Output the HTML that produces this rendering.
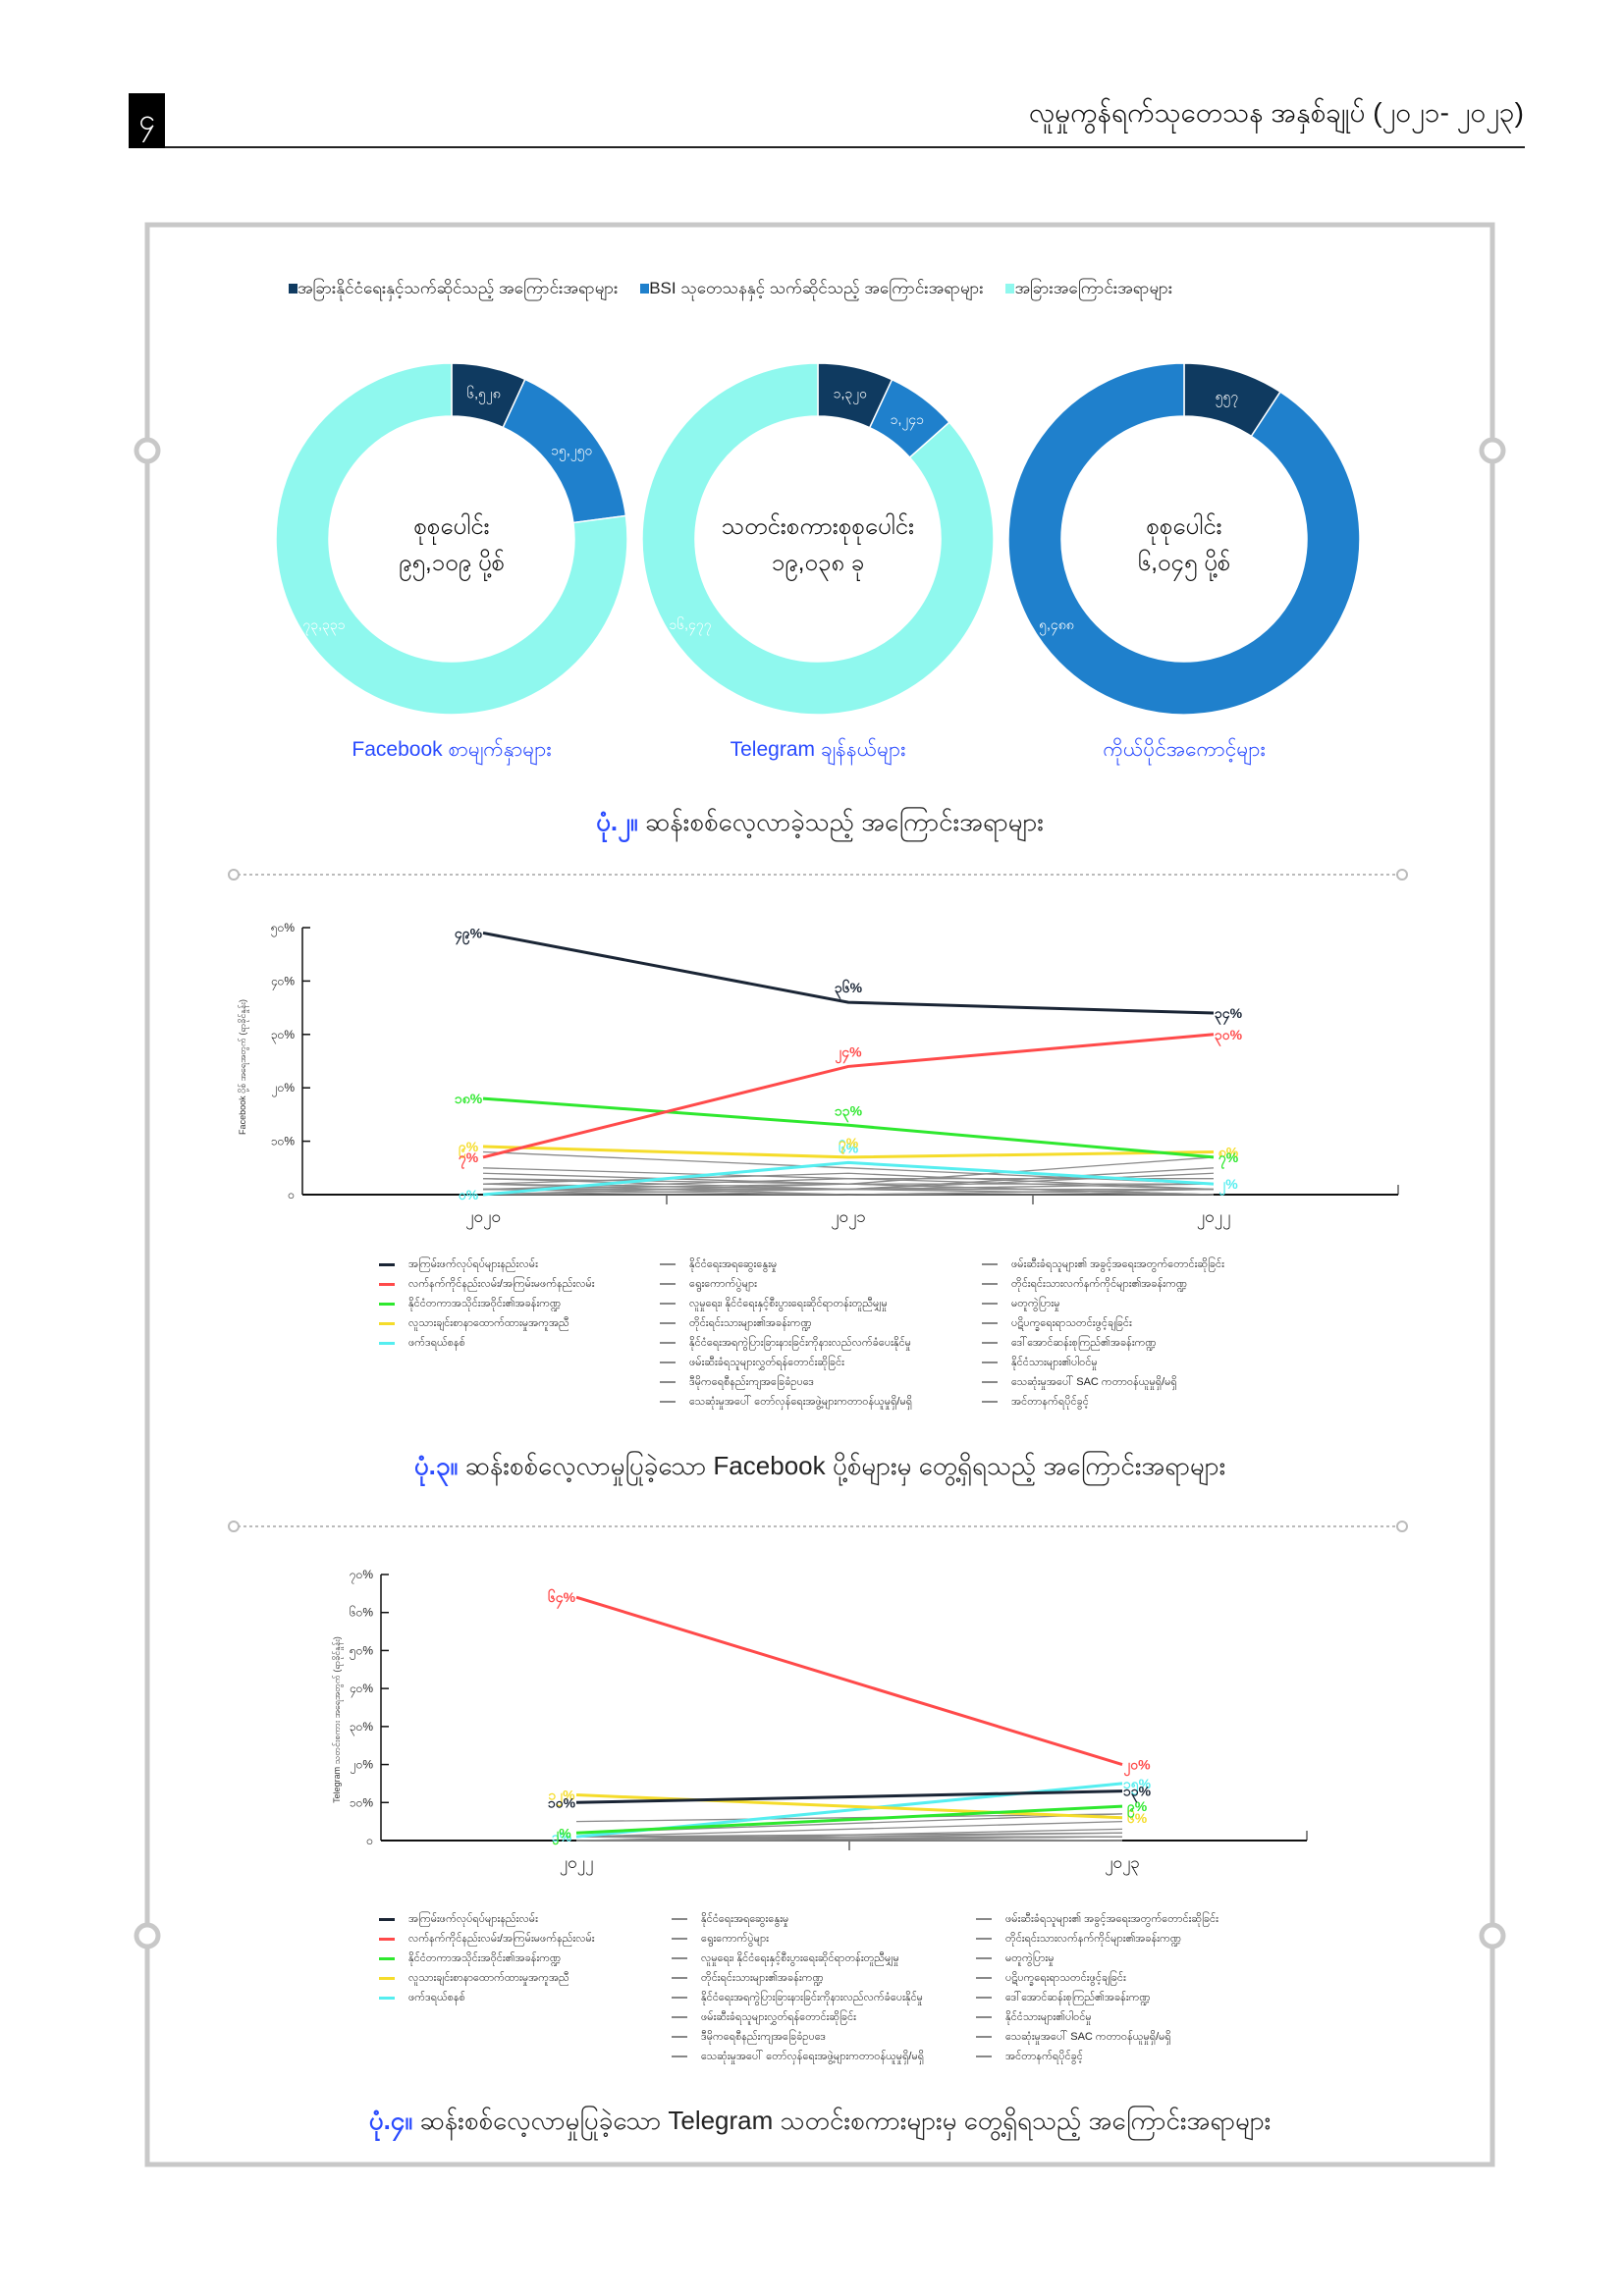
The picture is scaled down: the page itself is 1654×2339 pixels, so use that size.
<!DOCTYPE html>
<html><head><meta charset="utf-8">
<style>
html,body{margin:0;padding:0;background:#fff;}
body{width:1654px;height:2339px;position:relative;overflow:hidden;font-family:"Liberation Sans","Noto Sans CJK SC",sans-serif;}
.abs{position:absolute;}
svg text{font-family:"Liberation Sans","Noto Sans CJK SC",sans-serif;}
</style></head>
<body>
<div class="abs" style="left:131px;top:95px;width:37px;height:56px;background:#000;color:#fff;font-size:30px;text-align:center;line-height:56px;">၄</div>
<div class="abs" style="right:102px;top:96px;font-size:28px;color:#111;">လူမှုကွန်ရက်သုတေသန အနှစ်ချုပ် (၂၀၂၁- ၂၀၂၃)</div>
<div class="abs" style="left:168px;top:149px;width:1385px;height:2px;background:#222;"></div>

<svg class="abs" style="left:0;top:0" width="1654" height="2339">
  <rect x="150" y="229" width="1370" height="1976" fill="none" stroke="#c8c8c8" stroke-width="5"/>
  <circle cx="150" cy="459" r="11" fill="#fff" stroke="#c8c8c8" stroke-width="5"/>
  <circle cx="1520" cy="459" r="11" fill="#fff" stroke="#c8c8c8" stroke-width="5"/>
  <circle cx="150" cy="1972" r="11" fill="#fff" stroke="#c8c8c8" stroke-width="5"/>
  <circle cx="1520" cy="1972" r="11" fill="#fff" stroke="#c8c8c8" stroke-width="5"/>
  <line x1="242" y1="891" x2="1424" y2="891" stroke="#bbb" stroke-width="2" stroke-dasharray="3,3"/>
  <circle cx="238" cy="891" r="5" fill="#fff" stroke="#bbb" stroke-width="2"/>
  <circle cx="1428" cy="891" r="5" fill="#fff" stroke="#bbb" stroke-width="2"/>
  <line x1="242" y1="1555" x2="1424" y2="1555" stroke="#bbb" stroke-width="2" stroke-dasharray="3,3"/>
  <circle cx="238" cy="1555" r="5" fill="#fff" stroke="#bbb" stroke-width="2"/>
  <circle cx="1428" cy="1555" r="5" fill="#fff" stroke="#bbb" stroke-width="2"/>
  <g id="donuts"></g>
  <g id="chart1"></g>
  <g id="chart2"></g>
</svg>

<div class="abs" style="left:294px;top:283px;font-size:17px;color:#222;white-space:nowrap;">
 <span><span style="display:inline-block;width:9px;height:10px;background:#0f3a60"></span>အခြားနိုင်ငံရေးနှင့်သက်ဆိုင်သည့် အကြောင်းအရာများ</span>
 <span style="margin-left:18px"><span style="display:inline-block;width:9px;height:10px;background:#1f80cc"></span>BSI သုတေသနနှင့် သက်ဆိုင်သည့် အကြောင်းအရာများ</span>
 <span style="margin-left:18px"><span style="display:inline-block;width:9px;height:10px;background:#8ff8ee"></span>အခြားအကြောင်းအရာများ</span>
</div>

<div class="abs" style="left:0;width:1670px;text-align:center;top:820px;font-size:26px;color:#222;"><b style="color:#2a4bff">ပုံ.၂။</b> ဆန်းစစ်လေ့လာခဲ့သည့် အကြောင်းအရာများ</div>
<div class="abs" style="left:0;width:1670px;text-align:center;top:1476px;font-size:26px;color:#222;"><b style="color:#2a4bff">ပုံ.၃။</b> ဆန်းစစ်လေ့လာမှုပြုခဲ့သော Facebook ပို့စ်များမှ တွေ့ရှိရသည့် အကြောင်းအရာများ</div>
<div class="abs" style="left:0;width:1670px;text-align:center;top:2143px;font-size:26px;color:#222;"><b style="color:#2a4bff">ပုံ.၄။</b> ဆန်းစစ်လေ့လာမှုပြုခဲ့သော Telegram သတင်းစကားများမှ တွေ့ရှိရသည့် အကြောင်းအရာများ</div>

<div id="legend1"></div>
<div id="legend2"></div>

<script>
// ---------- donut data ----------
const donutNames = ["Facebook စာမျက်နှာများ","Telegram ချန်နယ်များ","ကိုယ်ပိုင်အကောင့်များ"];
const donutCenterTitle = ["စုစုပေါင်း","သတင်းစကားစုစုပေါင်း","စုစုပေါင်း"];
const donutTotals = ["၉၅,၁၀၉ ပို့စ်","၁၉,၀၃၈ ခု","၆,၀၄၅ ပို့စ်"];
const donutPolitical = [6528, 1320, 557];
const donutBSI = [15250, 1241, 5488];
const donutOther = [73331, 16477, 0];
const donutLabelsPol = ["၆,၅၂၈","၁,၃၂၀","၅၅၇"];
const donutLabelsBSI = ["၁၅,၂၅၀","၁,၂၄၁","၅,၄၈၈"];
const donutLabelsOther = ["၇၃,၃၃၁","၁၆,၄၇၇",""];

// ---------- chart 1 (Facebook) ----------
const c1Years = ["၂၀၂၀","၂၀၂၁","၂၀၂၂"];
const c1Ticks = ["၀","၁၀%","၂၀%","၃၀%","၄၀%","၅၀%"];
const c1TickVals = [0,10,20,30,40,50];
const c1Black = [49,36,34];
const c1Red = [7,24,30];
const c1Green = [18,13,7];
const c1Yellow = [9,7,8];
const c1Cyan = [0,6,2];
const c1BlackLbl = ["၄၉%","၃၆%","၃၄%"];
const c1RedLbl = ["၇%","၂၄%","၃၀%"];
const c1GreenLbl = ["၁၈%","၁၃%","၇%"];
const c1YellowLbl = ["၉%","၇%","၈%"];
const c1CyanLbl = ["၀%","၆%","၂%"];
const c1Grey = [[8,5,2],[4,2,7],[3,1,5],[2,4,1],[1,3,3],[1,0,1],[0,2,0],[2,1,2],[5,3,1],[1,1,4],[0,1,1],[3,2,0],[1,2,2],[0,0,1],[2,0,0],[1,1,0]];

// ---------- chart 2 (Telegram) ----------
const c2Years = ["၂၀၂၂","၂၀၂၃"];
const c2Ticks = ["၀","၁၀%","၂၀%","၃၀%","၄၀%","၅၀%","၆၀%","၇၀%"];
const c2TickVals = [0,10,20,30,40,50,60,70];
const c2Black = [10,13];
const c2Red = [64,20];
const c2Green = [2,9];
const c2Yellow = [12,6];
const c2Cyan = [1,15];
const c2BlackLbl = ["၁၀%","၁၃%"];
const c2RedLbl = ["၆၄%","၂၀%"];
const c2GreenLbl = ["၂%","၉%"];
const c2YellowLbl = ["၁၂%","၆%"];
const c2CyanLbl = ["၁%","၁၅%"];
const c2Grey = [[5,7],[1,5],[0,3],[0,1],[1,0],[0,0],[2,7],[0,1],[1,2],[0,0],[1,1],[0,2],[0,0],[1,0],[0,1],[0,0]];

const legendColored = ["အကြမ်းဖက်လုပ်ရပ်များနည်းလမ်း","လက်နက်ကိုင်နည်းလမ်း/အကြမ်းမဖက်နည်းလမ်း","နိုင်ငံတကာအသိုင်းအဝိုင်း၏အခန်းကဏ္ဍ","လူသားချင်းစာနာထောက်ထားမှုအကူအညီ","ဖက်ဒရယ်စနစ်"];
const legendGreyA = ["နိုင်ငံရေးအရဆွေးနွေးမှု","ရွေးကောက်ပွဲများ","လူမှုရေး၊ နိုင်ငံရေးနှင့်စီးပွားရေးဆိုင်ရာတန်းတူညီမျှမှု","တိုင်းရင်းသားများ၏အခန်းကဏ္ဍ","နိုင်ငံရေးအရကွဲပြားခြားနားခြင်းကိုနားလည်လက်ခံပေးနိုင်မှု","ဖမ်းဆီးခံရသူများလွှတ်ရန်တောင်းဆိုခြင်း","ဒီမိုကရေစီနည်းကျအခြေခံဥပဒေ","သေဆုံးမှုအပေါ် တော်လှန်ရေးအဖွဲ့များကတာဝန်ယူမှုရှိ/မရှိ"];
const legendGreyB = ["ဖမ်းဆီးခံရသူများ၏ အခွင့်အရေးအတွက်တောင်းဆိုခြင်း","တိုင်းရင်းသားလက်နက်ကိုင်များ၏အခန်းကဏ္ဍ","မတူကွဲပြားမှု","ပဋိပက္ခရေးရာသတင်းဖွင့်ချခြင်း","ဒေါ်အောင်ဆန်းစုကြည်၏အခန်းကဏ္ဍ","နိုင်ငံသားများ၏ပါဝင်မှု","သေဆုံးမှုအပေါ် SAC ကတာဝန်ယူမှုရှိ/မရှိ","အင်တာနက်ရပိုင်ခွင့်"];

const NS="http://www.w3.org/2000/svg";
function mk(tag, attrs, parent){const e=document.createElementNS(NS,tag);for(const k in attrs)e.setAttribute(k,attrs[k]);parent.appendChild(e);return e;}

// ---- donuts ----
(function(){
  const g=document.getElementById('donuts');
  const cx=[460,833,1206], cy=549, R=179, r=125;
  const cols=["#0f3a60","#1f80cc","#8ff8ee"];
  function arc(c,a0,a1){
    const p=(a,rad)=>[c+rad*Math.sin(a), cy-rad*Math.cos(a)];
    const large=(a1-a0)>Math.PI?1:0;
    const [x1,y1]=p(a0,R),[x2,y2]=p(a1,R),[x3,y3]=p(a1,r),[x4,y4]=p(a0,r);
    return `M${x1},${y1}A${R},${R} 0 ${large} 1 ${x2},${y2}L${x3},${y3}A${r},${r} 0 ${large} 0 ${x4},${y4}Z`;
  }
  for(let i=0;i<3;i++){
    const vals=[donutPolitical[i],donutBSI[i],donutOther[i]];
    const lbls=[donutLabelsPol[i],donutLabelsBSI[i],donutLabelsOther[i]];
    const tot=vals.reduce((a,b)=>a+b,0);
    let a=0;
    for(let j=0;j<3;j++){
      if(vals[j]<=0) continue;
      const a1=a+vals[j]/tot*2*Math.PI;
      const s=mk('path',{d:arc(cx[i],a,Math.min(a1,2*Math.PI-1e-4)),fill:cols[j],stroke:'#fff','stroke-width':1.5},g);
      
      
      let lx, ly;
      if(j===2 || (i===2 && j===1)){ lx=cx[i]-130; ly=cy+92; }
      else { const m=(a+a1)/2; lx=cx[i]+(R+r)/2*Math.sin(m); ly=cy-(R+r)/2*Math.cos(m)+5; }
      const t=mk('text',{x:lx,y:ly,'text-anchor':'middle','font-size':14,fill:'#fff'},g);
      t.textContent=lbls[j];
      
      
      a=a1;
    }
    const t1=mk('text',{x:cx[i],y:cy-5,'text-anchor':'middle','font-size':24,fill:'#111'},g);
    t1.textContent=donutCenterTitle[i];
    
    
    const t2=mk('text',{x:cx[i],y:cy+32,'text-anchor':'middle','font-size':24,fill:'#111'},g);
    t2.textContent=donutTotals[i];
    
    
    const t3=mk('text',{x:cx[i],y:770,'text-anchor':'middle','font-size':21,fill:'#2a4bff'},g);
    t3.textContent=donutNames[i];
    
    
  }
})();

function lineChart(gid, o){
  const g=document.getElementById(gid);
  const y=v=>o.y0-(v-o.vmin)/(o.vmax-o.vmin)*(o.y0-o.ytop);
  const x=i=>o.xs0+i*o.xstep;
  const ax=mk('line',{x1:o.ax,y1:o.y0,x2:o.axEnd,y2:o.y0,stroke:'#111','stroke-width':2},g);
  
  const ay=mk('line',{x1:o.ax,y1:o.y0,x2:o.ax,y2:o.ytop,stroke:'#111','stroke-width':1.5},g);
  
  o.tickVals.forEach((v,i)=>{
    const tk=mk('line',{x1:o.ax,y1:y(v),x2:o.ax+8,y2:y(v),stroke:'#111','stroke-width':1.5},g);
    
    const t=mk('text',{x:o.ax-8,y:y(v)+4,'text-anchor':'end','font-size':12,fill:'#222'},g);
    t.textContent=o.ticks[i];
    
  });
  o.midTicks.forEach(mx=>{mk('line',{x1:mx,y1:o.y0,x2:mx,y2:o.y0+10,stroke:'#111','stroke-width':1},g);});
  mk('line',{x1:o.axEnd,y1:o.y0,x2:o.axEnd,y2:o.y0-10,stroke:'#111','stroke-width':1},g);
  o.years.forEach((yr,i)=>{
    const t=mk('text',{x:x(i),y:o.y0+28,'text-anchor':'middle','font-size':17,fill:'#111'},g);
    t.textContent=yr;
    
  });
  const yt=mk('text',{x:0,y:0,'text-anchor':'middle','font-size':9,fill:'#333',transform:`translate(${o.ytx},${o.yty}) rotate(-90)`},g);
  yt.textContent=o.ytitle;
  
  o.grey.forEach(s=>{
    const pl=mk('polyline',{points:s.map((v,i)=>x(i)+','+y(v)).join(' '),fill:'none',stroke:'#8a8a8a','stroke-width':1.3},g);
    
  });
  o.series.forEach(s=>{
    const pl=mk('polyline',{points:s.v.map((v,i)=>x(i)+','+y(v)).join(' '),fill:'none',stroke:s.c,'stroke-width':3},g);
    
    s.v.forEach((v,i)=>{
      const dx = i===s.v.length-1 ? 15 : (i===0 ? -15 : 0);
      const t=mk('text',{x:x(i)+dx,y:y(v)+(i===0||i===s.v.length-1?5:-10),'text-anchor':'middle','font-size':14,'font-weight':'bold',fill:s.c},g);
      t.textContent=s.l[i];
      
    });
  });
}

lineChart('chart1',{ax:308,axEnd:1424,y0:1217,ytop:945,vmin:0,vmax:50,xs0:492,xstep:372,midTicks:[679,1052],
  years:c1Years,ticks:c1Ticks,tickVals:c1TickVals,grey:c1Grey,ytx:250,yty:1087,ytitle:"Facebook ပို့စ် အရေအတွက် (ရာခိုင်နှုန်း)",
  series:[{n:'cyan',v:c1Cyan,l:c1CyanLbl,c:'#55eef0'},{n:'yellow',v:c1Yellow,l:c1YellowLbl,c:'#f5dc2a'},{n:'green',v:c1Green,l:c1GreenLbl,c:'#2ee82e'},{n:'red',v:c1Red,l:c1RedLbl,c:'#ff4a4a'},{n:'black',v:c1Black,l:c1BlackLbl,c:'#1a2535'}]});
lineChart('chart2',{ax:388,axEnd:1331,y0:1875,ytop:1604,vmin:0,vmax:70,xs0:587,xstep:556,midTicks:[865],
  years:c2Years,ticks:c2Ticks,tickVals:c2TickVals,grey:c2Grey,ytx:346,yty:1752,ytitle:"Telegram သတင်းစကား အရေအတွက် (ရာခိုင်နှုန်း)",
  series:[{n:'cyan',v:c2Cyan,l:c2CyanLbl,c:'#55eef0'},{n:'yellow',v:c2Yellow,l:c2YellowLbl,c:'#f5dc2a'},{n:'green',v:c2Green,l:c2GreenLbl,c:'#2ee82e'},{n:'black',v:c2Black,l:c2BlackLbl,c:'#1a2535'},{n:'red',v:c2Red,l:c2RedLbl,c:'#ff4a4a'}]});

function legend(id, top, cols){
  const host=document.getElementById(id);
  const cc=['#1a2535','#ff4a4a','#2ee82e','#f5dc2a','#55eef0'];
  const groups=[legendColored, legendGreyA, legendGreyB];
  groups.forEach((arr,gi)=>{
    arr.forEach((txt,i)=>{
      const d=document.createElement('div');
      d.className='abs';
      d.style.cssText=`left:${cols[gi]}px;top:${top+i*20}px;font-size:11px;color:#222;white-space:nowrap;line-height:14px;`;
      const sw=gi===0?cc[i]:'#888';
      d.innerHTML=`<span style="display:inline-block;width:16px;height:${gi===0?3:1.5}px;background:${sw};vertical-align:middle;margin-right:14px"></span>`+txt;
      
      
      host.appendChild(d);
    });
  });
}
legend('legend1',1281,[386,672,1000]);
legend('legend2',1948,[386,684,994]);
</script>
</body></html>
